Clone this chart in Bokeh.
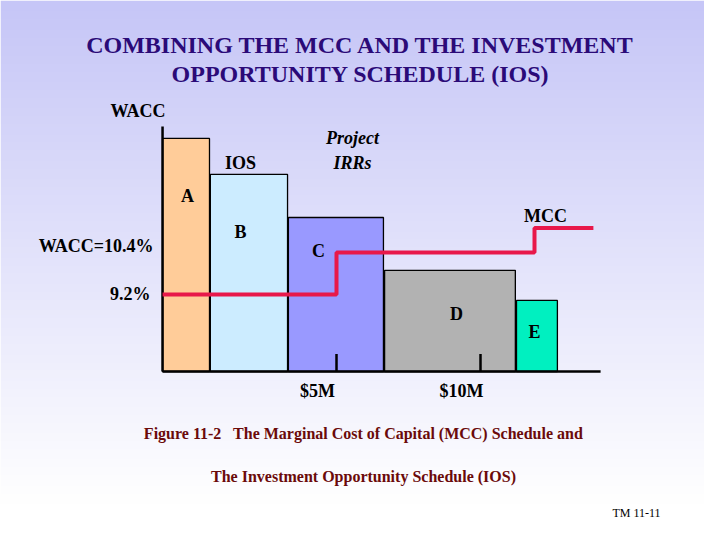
import numpy as np
from bokeh.plotting import figure
from bokeh.models import Range1d
from bokeh.core.properties import value
from bokeh.embed import file_html
from bokeh.resources import INLINE

# ---- data ----
projects = ["A", "B", "C", "D", "E"]
bar_left = [-1.04, 0.62, 3.33, 6.67, 11.25]      # $M (schematic)
bar_right = [0.59, 3.30, 6.63, 11.21, 12.67]
irr = [13.66, 12.63, 11.40, 9.89, 9.03]          # project IRR, %
bar_colors = ["#FFCC99", "#CCECFF", "#9999FF", "#B2B2B2", "#00F0C0"]

mcc_breaks = [5.0, 11.875]                        # $M
mcc_levels = [9.2, 10.4, 11.1]                    # %
x_axis_start, x_axis_end = -1.04, 14.17
y_axis_base, y_axis_top = 7.0, 14.0
tick_values = [5, 10]
tick_labels = ["$5M", "$10M"]
mcc_end = 13.92

# ---- screen -> data helpers (for annotation placement) ----
def X(px):
    return 5 + (px - 336) / 28.8

def Y(py):
    return 9.2 + (294 - py) / 35.0

W, H = 704, 524
x0, x1 = X(0), X(W)
y0, y1 = Y(H), Y(0)

p = figure(width=W, height=H, output_backend="svg", toolbar_location=None,
           x_range=Range1d(x0, x1), y_range=Range1d(y0, y1),
           x_axis_location=None, y_axis_location=None, min_border=0,
           outline_line_color=None)
p.grid.visible = False
p.background_fill_color = "white"
p.border_fill_color = "white"

# gradient background
N = 200
rows = []
for i in range(N):
    t = i / (N - 1)              # 0 bottom -> 1 top
    k = max(0.0, (t - 0.04) / 0.96)
    r = int(255 - (255 - 198) * k)
    g = int(255 - (255 - 198) * k)
    b = int(255 - (255 - 247) * k)
    rows.append([(255 << 24) | (b << 16) | (g << 8) | r])
img = np.array(rows, dtype=np.uint32)
p.image_rgba(image=[img], x=x0, y=y0, dw=x1 - x0, dh=y1 - y0)

# bars
p.quad(left=bar_left, right=bar_right, bottom=[y_axis_base] * 5, top=irr,
       fill_color=bar_colors, line_color="black", line_width=1.3)

# axes lines
p.segment(x0=[x_axis_start, x_axis_start], y0=[y_axis_base, y_axis_base],
          x1=[x_axis_start, x_axis_end], y1=[y_axis_top, y_axis_base],
          line_color="black", line_width=2.5)
p.segment(x0=tick_values, y0=[y_axis_base] * 2, x1=tick_values,
          y1=[y_axis_base + 0.5] * 2, line_color="black", line_width=2.5)

# MCC step line
mx = [x_axis_start]
my = [mcc_levels[0]]
for b, lo, hi in zip(mcc_breaks, mcc_levels[:-1], mcc_levels[1:]):
    mx += [b, b]
    my += [lo, hi]
mx.append(mcc_end)
my.append(mcc_levels[-1])
p.line(mx, my, line_color="#E8184A", line_width=4)

serif = value("Liberation Serif")

def txt(x, y, s, size="18px", color="black", align="center", style="bold",
        baseline="middle"):
    p.text(x=[x], y=[y], text=[s], text_font=serif, text_font_size=size,
           text_font_style=style, text_color=color, text_align=align,
           text_baseline=baseline)

# title
txt(X(360), Y(44), "COMBINING THE MCC AND THE INVESTMENT", size="24px", color="#2B0A78")
txt(X(360), Y(73), "OPPORTUNITY SCHEDULE (IOS)", size="24px", color="#2B0A78")

# labels
txt(X(110), Y(110), "WACC", align="left")
txt(X(240), Y(162), "IOS")
txt(X(352), Y(137), "Project", style="bold italic")
txt(X(352), Y(162), "IRRs", style="bold italic")
label_px = [(187, 195), (240, 231), (318, 250), (456, 313), (534, 331)]
for name, (lx, ly) in zip(projects, label_px):
    txt(X(lx), Y(ly), name)
txt(X(545), Y(215), "MCC")
txt(X(153), Y(245), "WACC=10.4%", align="right")
txt(X(150), Y(293), "9.2%", align="right")
for tv, tl in zip(tick_values, tick_labels):
    txt(tv - 19 / 28.8, Y(390), tl)

# caption
txt(X(363), Y(433), "Figure 11-2\u00a0\u00a0 The Marginal Cost of Capital (MCC) Schedule and",
    size="16px", color="#6B0A0A")
txt(X(363), Y(476), "The Investment Opportunity Schedule (IOS)", size="16px", color="#6B0A0A")
txt(X(612), Y(505), "TM 11-11", size="12px", style="normal", align="left", baseline="top")

open("out.html", "w").write(file_html(p, INLINE))
